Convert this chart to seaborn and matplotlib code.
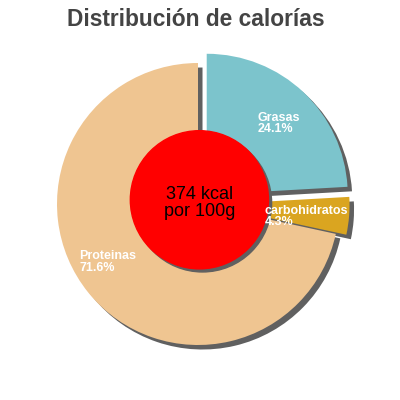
import matplotlib
matplotlib.use("Agg")
import matplotlib.pyplot as plt
import seaborn as sns
import numpy as np

labels = ["Grasas", "carbohidratos", "Proteinas"]
values = [24.1, 4.3, 71.6]
colors = ["#7cc4cc", "#daa520", "#efc591"]
explode = [0.09, 0.075, 0.0]
kcal_text = "374 kcal\npor 100g"
title = "Distribución de calorías"

sns.set_theme(style="white")
plt.rcParams['font.family'] = ['Liberation Sans', 'DejaVu Sans']

fig = plt.figure(figsize=(4, 4), dpi=100)
ax = fig.add_axes([0.0015, -0.0035, 0.987, 0.987])

shadow_off = (0.032, -0.032)

# shadow pass
ax.pie(values, colors=["#606060"] * 3, explode=explode, startangle=90,
       counterclock=False, radius=1.0, center=shadow_off,
       wedgeprops=dict(linewidth=0))
wedges, _ = ax.pie(values, colors=colors, explode=explode, startangle=90,
                   counterclock=False, radius=1.0,
                   wedgeprops=dict(linewidth=0))

label_pos = {"Grasas": (0.42, 0.57), "carbohidratos": (0.47, -0.09), "Proteinas": (-0.84, -0.41)}
for lab, val in zip(labels, values):
    x, y = label_pos[lab]
    ax.text(x, y, f"{lab}\n{val}%", color="white", fontsize=9, fontweight="bold",
            ha="left", va="center", linespacing=0.95, zorder=7)

center_xy = (0.01, 0.03)
r_inner = 0.49
ax.add_patch(plt.Circle((center_xy[0] + 0.022, center_xy[1] - 0.022),
                        r_inner, color="#606060", zorder=4))
ax.add_patch(plt.Circle(center_xy, r_inner, color="#ff0000", zorder=5))
ax.text(center_xy[0], center_xy[1] - 0.02, kcal_text, ha="center", va="center", fontsize=13,
        color="black", zorder=6, linespacing=1.0)

ax.set_xlim(-1.4, 1.4)
ax.set_ylim(-1.4, 1.4)
ax.set_aspect("equal")
ax.axis("off")

fig.text(0.49, 0.95, title, ha="center", va="center", fontsize=16.4,
         fontweight="bold", color="#444444")

fig.savefig("out.png", dpi=100)
